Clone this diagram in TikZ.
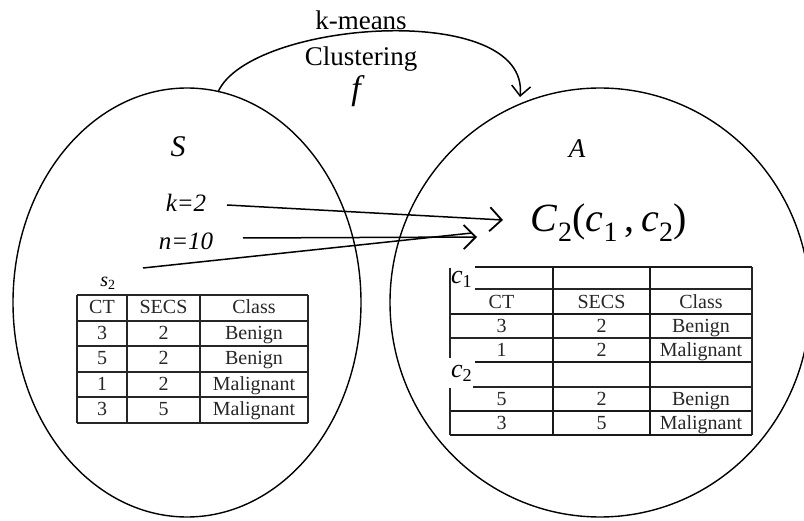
\documentclass[tikz,border=0pt]{standalone}
\usepackage{fontspec}
\setmainfont{Liberation Serif}
\usetikzlibrary{arrows.meta,shapes.geometric}
\begin{document}
\begin{tikzpicture}[x=1pt,y=-1pt,
  setshape/.style={draw, ellipse, line width=1.4pt, inner sep=0pt},
  conn/.style={line width=1.5pt},
  bighead/.style={-{Straight Barb[length=12pt,width=24pt,line width=1.8pt]}},
  archead/.style={-{Straight Barb[length=10pt,width=19pt,line width=1.5pt]}},
  lbl/.style={inner sep=0pt, anchor=base, font=\fontsize{27}{29}\selectfont},
  cell/.style={inner sep=0pt, anchor=base, font=\fontsize{20}{22}\selectfont, text=black!85},
  tl/.style={line width=1.3pt, black!85},
  tk/.style={line width=2.4pt, black!90},
]
\useasboundingbox (0,0) rectangle (804,521);

% the two sets
\node[setshape, minimum width=348pt, minimum height=429pt] (S) at (187,302.5) {};
\node[setshape, minimum width=420pt, minimum height=429pt] (A) at (600,302.5) {};

% labels
\node[lbl, font=\fontsize{30}{32}\selectfont\itshape] (Slbl) at (178,157) {S};
\node[lbl, font=\fontsize{27}{30}\selectfont\itshape] (Albl) at (577,158) {A};
\node[lbl] (km) at (361,30) {k-means};
\node[lbl] (cl) at (361,66) {Clustering};
\node[lbl, font=\fontsize{34}{36}\selectfont\itshape] (f) at (356,100) {f};
\node[lbl, font=\fontsize{25}{28}\selectfont\itshape] (k2) at (186,212) {k=2};
\node[lbl, font=\fontsize{25}{28}\selectfont\itshape] (n10) at (186,250) {n=10};
\node[inner sep=0pt, anchor=base, font=\fontsize{40}{44}\selectfont] (C) at (609,232)
  {\textit{C}\textsubscript{2}(\textit{c}\textsubscript{1}\,,\,\textit{c}\textsubscript{2})};

% top arc f
\coordinate (arcS) at (218,92);
\coordinate (arcA) at (520,97);
\draw[conn, archead] (arcS) .. controls (250,20) and (530,0) .. (arcA);

% arrows into C2
\coordinate (k2s) at (227,205);
\coordinate (k2e) at (503,220);
\coordinate (n10s) at (243,238);
\coordinate (n10e) at (477,237);
\coordinate (s2s) at (143,268);
\coordinate (s2e) at (472,233);
\draw[conn, bighead] (k2s) -- (k2e);
\draw[conn, bighead] (n10s) -- (n10e);
\draw[conn] (s2s) -- (s2e);

% left table s2
\node[inner sep=0pt, font=\fontsize{20}{22}\selectfont] (s2) at (108,283) {\textit{s}\textsubscript{2}};
\foreach \y in {295,321,346,372,397,423} \draw[tl] (77,\y) -- (308,\y);
\foreach \x in {77,127,200,308} \draw[tl] (\x,295) -- (\x,423);
\foreach \r/\y/\a/\b/\c in {1/314/CT/SECS/Class,2/339.5/3/2/Benign,3/365/5/2/Benign,4/390.5/1/2/Malignant,5/416/3/5/Malignant}{
  \node[cell] (L\r a) at (102,\y) {\a};
  \node[cell] (L\r b) at (163.5,\y) {\b};
  \node[cell] (L\r c) at (254,\y) {\c};
}

% right table c1, c2
\draw[tk] (475,267) -- (752,267);
\draw[tl] (475,289) -- (752,289);
\draw[tk] (450,314) -- (752,314);
\draw[tl] (450,338) -- (752,338);
\draw[tk] (475,362) -- (752,362);
\draw[tl] (473,387) -- (752,387);
\draw[tk] (450,411) -- (752,411);
\draw[tk] (450,435) -- (752,435);
\draw[tl] (450,268) -- (450,358);
\draw[tl] (450,388) -- (450,435);
\draw[tk] (553,267) -- (553,435);
\draw[tk] (650,267) -- (650,435);
\draw[tl] (752,267) -- (752,435);
\node[inner sep=0pt, anchor=base west, font=\fontsize{26}{28}\selectfont] (c1) at (451,284) {\textit{c}\textsubscript{1}};
\node[inner sep=0pt, anchor=base west, font=\fontsize{26}{28}\selectfont] (c2) at (451,378) {\textit{c}\textsubscript{2}};
\foreach \r/\y/\a/\b/\c in {1/308.5/CT/SECS/Class,2/333/3/2/Benign,3/357/1/2/Malignant,4/406/5/2/Benign,5/430/3/5/Malignant}{
  \node[cell] (R\r a) at (501.5,\y) {\a};
  \node[cell] (R\r b) at (601.5,\y) {\b};
  \node[cell] (R\r c) at (701,\y) {\c};
}
\end{tikzpicture}
\end{document}
